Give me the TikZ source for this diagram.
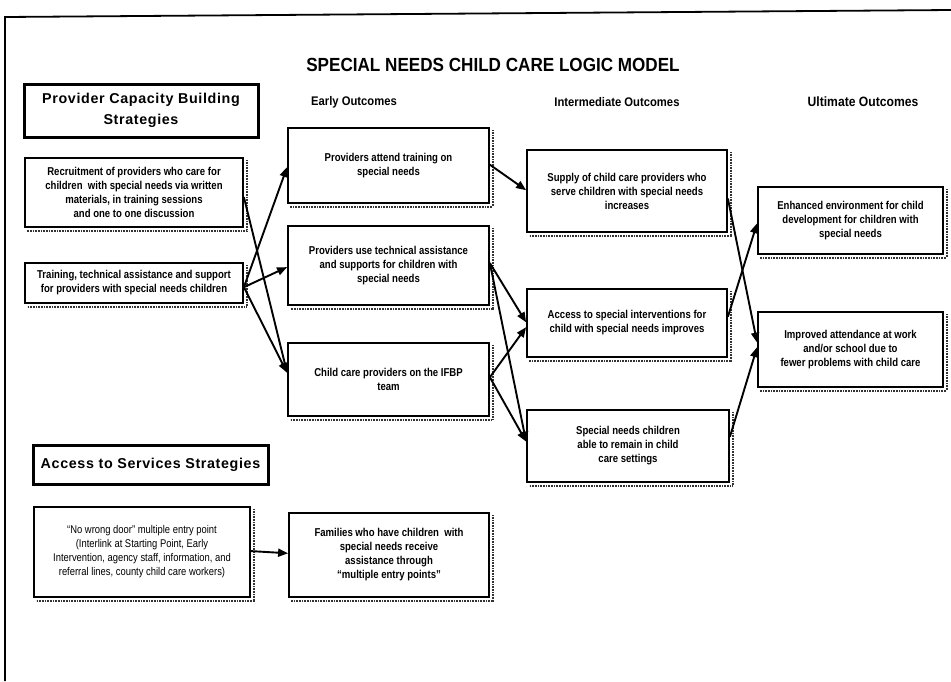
\documentclass[tikz,border=0pt]{standalone}
\usepackage{fontspec}
\usetikzlibrary{arrows.meta,calc}
\newfontfamily\bodyfont{Liberation Sans}[FakeStretch=0.84]
\newfontfamily\headfont{Liberation Sans}[FakeStretch=0.9]
\newfontfamily\stratfont{Liberation Sans}[LetterSpace=4.5]

% point at a given fraction down the east / west side of a box
\newcommand\eside[2]{($(#1.north east)!#2!(#1.south east)$)}
\newcommand\wside[2]{($(#1.north west)!#2!(#1.south west)$)}
% dotted drop shade along the right and bottom edges of a box
\newcommand\boxshade[1]{%
  \draw[shadeline] ([shift={(2.6pt,-3pt)}]#1.north east) --
    ([shift={(2.6pt,-2.6pt)}]#1.south east) --
    ([shift={(3pt,-2.6pt)}]#1.south west);}

\begin{document}
\begin{tikzpicture}[x=1pt,y=-1pt,
  box/.style={draw, line width=1.8pt, fill=white, align=center,
    inner sep=1pt, font=\bodyfont\bfseries\fontsize{11.4}{14}\selectfont},
  headbox/.style={draw, line width=3pt, align=center, inner sep=2pt,
    font=\stratfont\bfseries\fontsize{14.3}{21.5}\selectfont},
  colhead/.style={font=\headfont\bfseries\fontsize{12.5}{15}\selectfont},
  shadeline/.style={line width=2pt, dash pattern=on 0.7pt off 0.9pt, black!80},
  conn/.style={draw, line width=1.9pt, -{Triangle[length=10pt,width=8pt]}},
  frameline/.style={line width=1.8pt}]

\useasboundingbox (0,0) rectangle (951,681);

% page frame
\draw[frameline] (5,681) -- (5,17) -- (951,10);

% title and column headings
\node[font=\headfont\bfseries\fontsize{19}{22}\selectfont] (title) at (493,65)
  {SPECIAL NEEDS CHILD CARE LOGIC MODEL};
\node[colhead] (hearly) at (354,102) {Early Outcomes};
\node[colhead] (hinter) at (617,102) {Intermediate Outcomes};
\node[colhead, font=\headfont\bfseries\fontsize{13.5}{15}\selectfont] (hult) at (863,102) {Ultimate Outcomes};

% strategy headings
\node[headbox, minimum width=234, minimum height=53] (hpcb) at (141,110.5)
  {Provider Capacity Building\\Strategies};
\node[headbox, minimum width=235, minimum height=39] (hacc) at (150.5,464.5)
  {Access to Services Strategies};

% provider capacity building strategies
\node[box, minimum width=218, minimum height=69] (rec) at (134,192.5)
  {Recruitment of providers who care for\\children\ \ with special needs via written\\materials, in training sessions\\and one to one discussion};
\node[box, minimum width=218, minimum height=40] (trn) at (134,283)
  {Training, technical assistance and support\\for providers with special needs children};

% early outcomes
\node[box, minimum width=201, minimum height=75] (att) at (388.5,165.5)
  {Providers attend training on\\special needs};
\node[box, minimum width=201, minimum height=79] (use) at (388.5,265.5)
  {Providers use technical assistance\\and supports for children with\\special needs};
\node[box, minimum width=201, minimum height=73] (ifbp) at (388.5,379.5)
  {Child care providers on the IFBP\\team};

% intermediate outcomes
\node[box, minimum width=200, minimum height=82] (sup) at (627,191)
  {Supply of child care providers who\\serve children with special needs\\increases};
\node[box, minimum width=200, minimum height=68] (acc) at (627,323)
  {Access to special interventions for\\child with special needs improves};
\node[box, minimum width=202, minimum height=72] (snc) at (628,446)
  {Special needs children\\able to remain in child\\care settings};

% ultimate outcomes
\node[box, minimum width=185, minimum height=67] (enh) at (850.5,220.5)
  {Enhanced environment for child\\development for children with\\special needs};
\node[box, minimum width=185, minimum height=75] (imp) at (850.5,349.5)
  {Improved attendance at work\\and/or school due to\\fewer problems with child care};

% access to services
\node[box, minimum width=216, minimum height=90, font=\bodyfont\fontsize{11.2}{14}\selectfont] (nwd) at (142,552)
  {“No wrong door” multiple entry point\\(Interlink at Starting Point, Early\\Intervention, agency staff, information, and\\referral lines, county child care workers)};
\node[box, minimum width=200, minimum height=84] (fam) at (389,555)
  {Families who have children\ \ with\\special needs receive\\assistance through\\“multiple entry points”};

% drop shades
\foreach \b in {rec,trn,att,use,ifbp,sup,acc,snc,enh,imp,nwd,fam} {\boxshade{\b}}

% strategies to early outcomes
\draw[conn] \eside{rec}{0.565} -- \wside{ifbp}{0.41};
\draw[conn] \eside{trn}{0.6} -- \wside{att}{0.52};
\draw[conn] \eside{trn}{0.6} -- \wside{use}{0.52};
\draw[conn] \eside{trn}{0.6} -- \wside{ifbp}{0.41};

% early to intermediate outcomes
\draw[conn] \eside{att}{0.49} -- \wside{sup}{0.49};
\draw[conn] \eside{use}{0.47} -- \wside{acc}{0.49};
\draw[conn] \eside{use}{0.47} -- \wside{snc}{0.44};
\draw[conn] \eside{ifbp}{0.47} -- \wside{acc}{0.56};
\draw[conn] \eside{ifbp}{0.47} -- \wside{snc}{0.44};

% intermediate to ultimate outcomes
\draw[conn] \eside{sup}{0.59} -- \wside{imp}{0.41};
\draw[conn] \eside{acc}{0.41} -- \wside{enh}{0.54};
\draw[conn] \eside{snc}{0.375} -- \wside{imp}{0.47};

% access to services
\draw[conn] \eside{nwd}{0.49} -- \wside{fam}{0.48};

\end{tikzpicture}
\end{document}
